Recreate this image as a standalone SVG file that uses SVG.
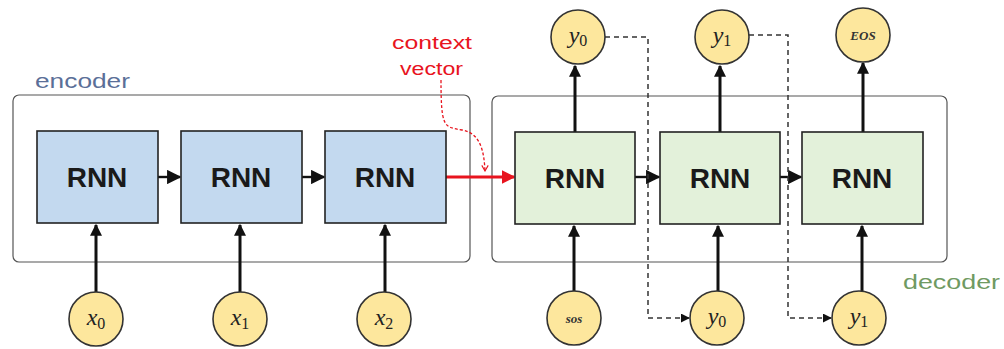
<svg xmlns="http://www.w3.org/2000/svg" width="1004" height="349" viewBox="0 0 1004 349">
  <defs>
    <marker id="ah" viewBox="0 0 10 10" refX="9" refY="5" markerWidth="4" markerHeight="4" orient="auto" markerUnits="strokeWidth">
      <path d="M0,0 L10,5 L0,10 Z" fill="#111"/>
    </marker>
    <marker id="ahs" viewBox="0 0 10 10" refX="9" refY="5" markerWidth="6" markerHeight="6" orient="auto" markerUnits="strokeWidth">
      <path d="M0,0 L10,5 L0,10 Z" fill="#111"/>
    </marker>
    <marker id="ahr" viewBox="0 0 10 10" refX="9" refY="5" markerWidth="4.5" markerHeight="4.5" orient="auto" markerUnits="strokeWidth">
      <path d="M0,0 L10,5 L0,10 Z" fill="#e8141e"/>
    </marker>
    <marker id="ahv" viewBox="0 0 10 10" refX="5" refY="9" markerWidth="8" markerHeight="8" orient="0" markerUnits="userSpaceOnUse">
      <path d="M1,2 L5,9 L9,2" fill="none" stroke="#e8141e" stroke-width="1.4"/>
    </marker>
  </defs>
  <style>
    .frame { fill: #ffffff; stroke: #555; stroke-width: 1.2; }
    .enc { fill: #c3d9ef; stroke: #222; stroke-width: 1.6; }
    .dec { fill: #e3f1da; stroke: #222; stroke-width: 1.6; }
    .tok { fill: #fde79d; stroke: #333; stroke-width: 1.6; }
    .rnn { font-family: "Liberation Sans", Arial, sans-serif; font-weight: bold; font-size: 28px; fill: #1a1a1a; text-anchor: middle; }
    .math { font-family: "Liberation Serif", "Times New Roman", serif; font-style: italic; font-size: 24px; fill: #222; text-anchor: middle; }
    .sub { font-style: normal; font-size: 16px; }
    .small { font-family: "Liberation Serif", serif; font-style: italic; font-weight: bold; font-size: 13px; fill: #333; text-anchor: middle; }
    .flow { stroke: #111; stroke-width: 3; fill: none; }
    .step { stroke: #111; stroke-width: 2.4; fill: none; }
    .feed { stroke: #333; stroke-width: 1.5; fill: none; stroke-dasharray: 5 4; }
  </style>

  <!-- containers -->
  <g id="encoder">
    <rect class="frame" x="13" y="95" width="457" height="167" rx="6"/>
    <text x="35" y="88" font-family="Liberation Sans, Arial, sans-serif" font-size="21" fill="#5b6f98" textLength="95" lengthAdjust="spacingAndGlyphs">encoder</text>
  </g>
  <g id="decoder">
    <rect class="frame" x="492" y="96" width="455" height="166" rx="6"/>
    <text x="903" y="289" font-family="Liberation Sans, Arial, sans-serif" font-size="21" fill="#6f9a62" textLength="97" lengthAdjust="spacingAndGlyphs">decoder</text>
  </g>

  <!-- connectors -->
  <g id="connectors">
    <!-- encoder recurrence -->
    <line class="step" x1="157" y1="177" x2="180" y2="177" marker-end="url(#ahs)"/>
    <line class="step" x1="302" y1="177" x2="324" y2="177" marker-end="url(#ahs)"/>
    <!-- encoder inputs -->
    <line class="flow" x1="96" y1="292" x2="96" y2="225" marker-end="url(#ah)"/>
    <line class="flow" x1="240" y1="292" x2="240" y2="225" marker-end="url(#ah)"/>
    <line class="flow" x1="385" y1="292" x2="385" y2="225" marker-end="url(#ah)"/>
    <!-- context vector -->
    <line x1="446" y1="177" x2="514" y2="177" stroke="#e8141e" stroke-width="3" marker-end="url(#ahr)"/>
    <path d="M441,80 C441,128 444,127 462,130 C480,133 484,150 485,171" fill="none" stroke="#e8141e" stroke-width="1.3" stroke-dasharray="3 2" marker-end="url(#ahv)"/>
    <!-- decoder recurrence -->
    <line class="step" x1="635" y1="177" x2="659" y2="177" marker-end="url(#ahs)"/>
    <line class="step" x1="780" y1="177" x2="801" y2="177" marker-end="url(#ahs)"/>
    <!-- decoder inputs -->
    <line class="flow" x1="574" y1="291" x2="574" y2="226" marker-end="url(#ah)"/>
    <line class="flow" x1="718" y1="291" x2="718" y2="226" marker-end="url(#ah)"/>
    <line class="flow" x1="862" y1="291" x2="862" y2="226" marker-end="url(#ah)"/>
    <!-- decoder outputs -->
    <line class="flow" x1="575" y1="132" x2="575" y2="66" marker-end="url(#ah)"/>
    <line class="flow" x1="720" y1="132" x2="720" y2="66" marker-end="url(#ah)"/>
    <line class="flow" x1="863" y1="132" x2="863" y2="63" marker-end="url(#ah)"/>
    <!-- outputs fed back as next inputs -->
    <path class="feed" d="M605,37 H648 V318 H689" marker-end="url(#ahs)"/>
    <path class="feed" d="M749,35 H788 V318 H831" marker-end="url(#ahs)"/>
  </g>

  <!-- encoder cells -->
  <g id="enc-rnn-0"><rect class="enc" x="37" y="131" width="121" height="92"/><text class="rnn" x="97" y="187">RNN</text></g>
  <g id="enc-rnn-1"><rect class="enc" x="181" y="131" width="121" height="92"/><text class="rnn" x="241" y="187">RNN</text></g>
  <g id="enc-rnn-2"><rect class="enc" x="325" y="131" width="121" height="92"/><text class="rnn" x="385" y="187">RNN</text></g>

  <!-- decoder cells -->
  <g id="dec-rnn-0"><rect class="dec" x="515" y="132" width="120" height="92"/><text class="rnn" x="575" y="188">RNN</text></g>
  <g id="dec-rnn-1"><rect class="dec" x="660" y="132" width="120" height="92"/><text class="rnn" x="720" y="188">RNN</text></g>
  <g id="dec-rnn-2"><rect class="dec" x="802" y="132" width="121" height="92"/><text class="rnn" x="862" y="188">RNN</text></g>

  <!-- input tokens -->
  <g id="x0"><circle class="tok" cx="96" cy="319" r="27"/><text class="math" x="96" y="325">x<tspan class="sub" dy="4">0</tspan></text></g>
  <g id="x1"><circle class="tok" cx="240" cy="319" r="27"/><text class="math" x="240" y="325">x<tspan class="sub" dy="4">1</tspan></text></g>
  <g id="x2"><circle class="tok" cx="384" cy="319" r="27"/><text class="math" x="384" y="325">x<tspan class="sub" dy="4">2</tspan></text></g>

  <!-- decoder inputs -->
  <g id="sos"><circle class="tok" cx="574" cy="318" r="27"/><text class="small" x="574" y="323">sos</text></g>
  <g id="y0-in"><circle class="tok" cx="717" cy="318" r="27"/><text class="math" x="717" y="324">y<tspan class="sub" dy="3">0</tspan></text></g>
  <g id="y1-in"><circle class="tok" cx="859" cy="318" r="27"/><text class="math" x="859" y="324">y<tspan class="sub" dy="3">1</tspan></text></g>

  <!-- decoder outputs -->
  <g id="y0-out"><circle class="tok" cx="578" cy="37" r="27"/><text class="math" x="578" y="43">y<tspan class="sub" dy="3">0</tspan></text></g>
  <g id="y1-out"><circle class="tok" cx="722" cy="37" r="27"/><text class="math" x="722" y="43">y<tspan class="sub" dy="3">1</tspan></text></g>
  <g id="eos"><circle class="tok" cx="863" cy="35" r="27"/><text class="small" x="863" y="40">EOS</text></g>

  <!-- context label -->
  <g id="context-label" font-family="Liberation Sans, Arial, sans-serif" font-size="18" fill="#e8141e">
    <text x="392" y="49" textLength="80" lengthAdjust="spacingAndGlyphs">context</text>
    <text x="400" y="75" textLength="63" lengthAdjust="spacingAndGlyphs">vector</text>
  </g>
</svg>
